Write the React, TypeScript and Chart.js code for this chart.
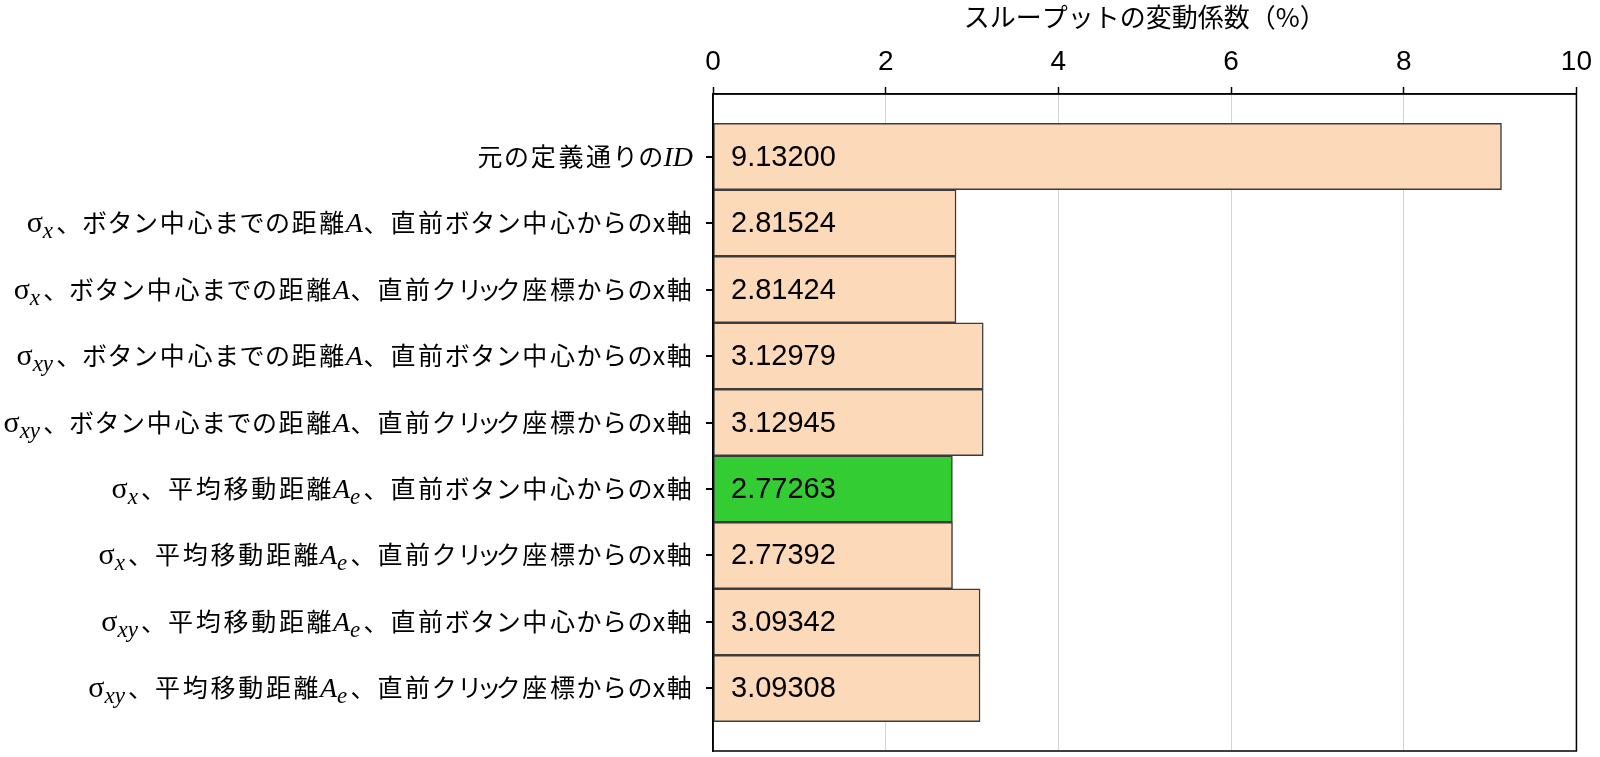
import { useEffect, useRef } from 'react'
import { Chart, registerables } from 'chart.js'

Chart.register(...registerables)

// $..$ = italic math, _{..} = italic subscript
const categories = [
  '元の定義通りの$ID$',
  'σ_{x}、ボタン中心までの距離$A$、直前ボタン中心からのx軸',
  'σ_{x}、ボタン中心までの距離$A$、直前クリック座標からのx軸',
  'σ_{xy}、ボタン中心までの距離$A$、直前ボタン中心からのx軸',
  'σ_{xy}、ボタン中心までの距離$A$、直前クリック座標からのx軸',
  'σ_{x}、平均移動距離$A$_{e}、直前ボタン中心からのx軸',
  'σ_{x}、平均移動距離$A$_{e}、直前クリック座標からのx軸',
  'σ_{xy}、平均移動距離$A$_{e}、直前ボタン中心からのx軸',
  'σ_{xy}、平均移動距離$A$_{e}、直前クリック座標からのx軸',
]
const cvValues = [9.132, 2.81524, 2.81424, 3.12979, 3.12945, 2.77263, 2.77392, 3.09342, 3.09308]
const xTicks = [0, 2, 4, 6, 8, 10]
const axisTitle = 'スループットの変動係数（%）'

const PEACH = '#fcdab9'
const GREEN = '#33cc33'
const INK = '#000000'

type Seg = { text: string; kind: 'jp' | 'sigma' | 'math' | 'sub' }

function parseLabel(s: string): Seg[] {
  const out: Seg[] = []
  const re = /\$([^$]+)\$|_\{([^}]+)\}|(σ)/g
  let last = 0
  let m: RegExpExecArray | null
  while ((m = re.exec(s))) {
    if (m.index > last) out.push({ text: s.slice(last, m.index), kind: 'jp' })
    if (m[1]) out.push({ text: m[1], kind: 'math' })
    else if (m[2]) out.push({ text: m[2], kind: 'sub' })
    else out.push({ text: 'σ', kind: 'sigma' })
    last = re.lastIndex
  }
  if (last < s.length) out.push({ text: s.slice(last), kind: 'jp' })
  return out
}

const FONTS: Record<Seg['kind'], string> = {
  jp: '25px "Noto Sans CJK JP"',
  sigma: '30px "Liberation Serif"',
  math: 'italic 28px "Liberation Serif"',
  sub: 'italic 23px "Liberation Serif"',
}
const SUB_GAP = 2.5
const SMALL_KANA = 'ッっャュョゃゅょァィゥェォ'

// advance of one full-width character (proportional-ish, like the source font)
function cjkAdvance(ch: string): number | null {
  const c = ch.charCodeAt(0)
  if (c < 0x2e80) return null
  if (SMALL_KANA.includes(ch)) return 13
  if (c >= 0x3040 && c <= 0x30ff) return 25.5
  if (c >= 0x3000 && c <= 0x303f) return 26.3
  return 27.7
}

function segWidth(ctx: CanvasRenderingContext2D, seg: Seg) {
  ctx.font = FONTS[seg.kind]
  if (seg.kind !== 'jp') return ctx.measureText(seg.text).width + (seg.kind === 'sub' ? SUB_GAP : 0)
  let w = 0
  for (const ch of seg.text) w += cjkAdvance(ch) ?? ctx.measureText(ch).width
  return w
}

function drawRich(ctx: CanvasRenderingContext2D, s: string, right: number, cy: number) {
  const segs = parseLabel(s)
  const total = segs.reduce((a, sg) => a + segWidth(ctx, sg), 0)
  let x = right - total
  const base = cy + 9
  ctx.textAlign = 'left'
  ctx.textBaseline = 'alphabetic'
  ctx.fillStyle = INK
  for (const sg of segs) {
    ctx.font = FONTS[sg.kind]
    if (sg.kind === 'jp') {
      for (const ch of sg.text) {
        const w = ctx.measureText(ch).width
        const adv = cjkAdvance(ch)
        if (adv !== null) {
          ctx.fillText(ch, x + (adv - w) / 2, base)
          x += adv
        } else {
          ctx.fillText(ch, x, base)
          x += w
        }
      }
    } else {
      const y = sg.kind === 'sub' ? base + 6 : base
      ctx.fillText(sg.text, x, y)
      x += ctx.measureText(sg.text).width + (sg.kind === 'sub' ? SUB_GAP : 0)
    }
  }
}

const labelPlugin = {
  id: 'richLabels',
  afterDraw(chart: any) {
    const { ctx, chartArea, scales } = chart
    const { x: xs, y: ys } = scales
    ctx.save()
    // frame
    ctx.strokeStyle = INK
    ctx.lineWidth = 1.5
    ctx.strokeRect(chartArea.left, chartArea.top, chartArea.right - chartArea.left, chartArea.bottom - chartArea.top)
    // category tick marks
    ctx.lineWidth = 2
    ctx.beginPath()
    categories.forEach((_, i) => {
      const y = Math.round(ys.getPixelForValue(i))
      ctx.moveTo(chartArea.left - 7, y)
      ctx.lineTo(chartArea.left, y)
    })
    ctx.stroke()
    // category labels
    categories.forEach((c, i) => drawRich(ctx, c, chartArea.left - 20, ys.getPixelForValue(i)))
    // value labels
    ctx.font = '29px "Liberation Sans"'
    ctx.textBaseline = 'middle'
    ctx.textAlign = 'left'
    ctx.fillStyle = INK
    cvValues.forEach((v, i) => {
      ctx.fillText(v.toFixed(5), xs.getPixelForValue(0) + 18, ys.getPixelForValue(i) + 1)
    })
    ctx.restore()
  },
}

export default function App() {
  const canvasRef = useRef<HTMLCanvasElement>(null)
  const chartRef = useRef<Chart | null>(null)

  useEffect(() => {
    if (!canvasRef.current) return
    if (chartRef.current) { chartRef.current.destroy(); chartRef.current = null }
    const minV = Math.min(...cvValues)

    chartRef.current = new Chart(canvasRef.current, {
      type: 'bar',
      plugins: [labelPlugin],
      data: {
        datasets: [{
          data: cvValues.map((v, i) => ({ x: v, y: i })),
          backgroundColor: cvValues.map(v => (v === minV ? GREEN : PEACH)),
          borderColor: '#3c3c3c',
          borderWidth: 1.5,
          borderSkipped: false,
          barPercentage: 1,
          categoryPercentage: 1,
        }],
      },
      options: {
        indexAxis: 'y',
        responsive: true,
        maintainAspectRatio: false,
        animation: false,
        layout: { padding: { left: 0, right: 19, top: 0, bottom: 6 } },
        plugins: { legend: { display: false }, tooltip: { enabled: false }, title: { display: false } },
        scales: {
          x: {
            type: 'linear',
            position: 'top',
            min: 0,
            max: 10,
            afterBuildTicks: (s: any) => { s.ticks = xTicks.map(v => ({ value: v })) },
            afterFit: (s: any) => { s.height = 94 },
            grid: { color: '#d4d4d4', lineWidth: 1, tickColor: INK, tickLength: 7, tickWidth: 1.5 },
            border: { color: INK, width: 1.5 },
            ticks: {
              color: INK,
              padding: 8,
              font: { family: '"Liberation Sans", Arial', size: 28 },
            },
            title: {
              display: true,
              text: axisTitle,
              color: INK,
              padding: { top: 2, bottom: 0 },
              font: { family: '"Noto Sans CJK JP"', size: 26 },
            },
          },
          y: {
            type: 'linear',
            reverse: true,
            offset: false,
            min: -0.94,
            max: 8.94,
            afterBuildTicks: (s: any) => { s.ticks = categories.map((_, i) => ({ value: i })) },
            afterFit: (s: any) => { s.width = 713 },
            grid: { offset: false, drawOnChartArea: false, drawTicks: false },
            border: { color: INK, width: 1.5 },
            ticks: { display: false },
          },
        },
      },
    })

    return () => { chartRef.current?.destroy(); chartRef.current = null }
  }, [])

  return (
    <div style={{ position: 'fixed', left: 0, top: 0, width: 1600, height: 757, background: '#fff' }}>
      <canvas ref={canvasRef} />
    </div>
  )
}
